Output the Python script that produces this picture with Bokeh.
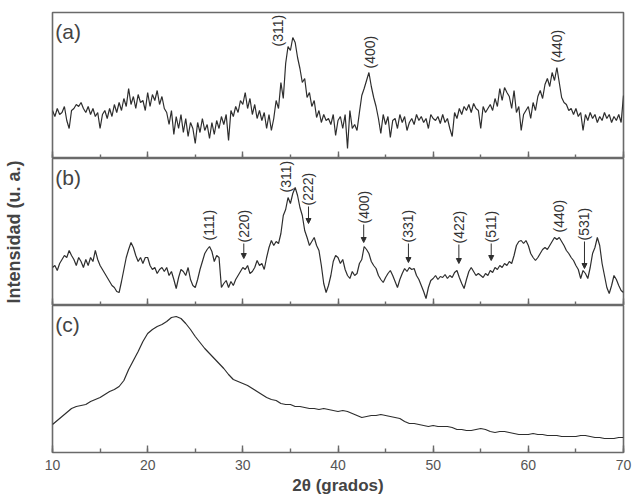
import numpy as np
from bokeh.plotting import figure
from bokeh.layouts import column
from bokeh.models import (Label, Arrow, NormalHead, SingleIntervalTicker, FixedTicker,
                          Range1d, ColumnDataSource)
from bokeh.core.properties import value
from bokeh.embed import file_html
from bokeh.resources import INLINE

# ---------------- data ----------------
# 2theta grid for panels (a) and (b): 10..70 step 0.25 ; panel (c): step 0.5
theta_ab = np.arange(0, 241) * 0.25 + 10
theta_c = np.arange(0, 121) * 0.5 + 10

int_a = [
    48, 42, 50, 44,   # 10
    46, 52, 38, 30,   # 11
    48, 50, 54, 52,   # 12
    56, 50, 46, 52,   # 13
    44, 50, 42, 46,   # 14
    30, 44, 48, 40,   # 15
    50, 42, 54, 46,   # 16
    56, 48, 60, 52,   # 17
    70, 54, 62, 50,   # 18
    64, 56, 58, 48,   # 19
    66, 52, 64, 58,   # 20
    68, 54, 62, 50,   # 21
    46, 34, 48, 24,   # 22
    42, 30, 44, 26,   # 23
    40, 22, 36, 30,   # 24
    15, 36, 26, 40,   # 25
    28, 34, 20, 36,   # 26
    24, 38, 30, 42,   # 27
    34, 44, 18, 48,   # 28
    42, 52, 46, 58,   # 29
    54, 66, 50, 60,   # 30
    44, 54, 40, 48,   # 31
    38, 46, 30, 44,   # 32
    28, 40, 58, 50,   # 33
    76, 60, 95, 112,  # 34
    108, 121, 116, 101,  # 35
    90, 76, 80, 61,   # 36
    66, 52, 58, 41,   # 37
    48, 36, 44, 38,   # 38
    40, 34, 44, 23,   # 39
    38, 42, 30, 44,   # 40
    10, 48, 30, 34,   # 41
    28, 46, 63, 70,   # 42
    78, 86, 72, 61,   # 43
    52, 40, 25, 44,   # 44
    34, 42, 21, 38,   # 45
    40, 30, 44, 36,   # 46
    42, 28, 36, 40,   # 47
    34, 44, 38, 42,   # 48
    36, 40, 30, 44,   # 49
    40, 38, 42, 35,   # 50
    44, 36, 40, 30,   # 51
    22, 46, 40, 50,   # 52
    44, 52, 48, 54,   # 53
    46, 55, 50, 48,   # 54
    30, 52, 46, 50,   # 55
    54, 48, 60, 52,   # 56
    70, 58, 71, 66,   # 57
    62, 50, 68, 46,   # 58
    52, 28, 44, 48,   # 59
    52, 40, 56, 48,   # 60
    62, 68, 60, 74,   # 61
    80, 72, 86, 78,   # 62
    91, 76, 61, 56,   # 63
    54, 48, 50, 44,   # 64
    50, 42, 46, 28,   # 65
    44, 38, 46, 40,   # 66
    44, 36, 42, 38,   # 67
    46, 40, 44, 36,   # 68
    42, 38, 44, 36,   # 69
    63,               # 70
]

int_b = [
    38, 40, 35, 42,   # 10
    46, 50, 48, 55,   # 11
    50, 46, 40, 48,   # 12
    44, 38, 46, 40,   # 13
    48, 44, 55, 46,   # 14
    40, 36, 32, 28,   # 15
    24, 20, 18, 14,   # 16
    13, 24, 36, 48,   # 17
    56, 63, 58, 50,   # 18
    44, 48, 42, 48,   # 19
    48, 40, 36, 38,   # 20
    32, 36, 38, 34,   # 21
    38, 30, 34, 26,   # 22
    17, 28, 36, 34,   # 23
    30, 38, 26, 20,   # 24
    18, 26, 36, 44,   # 25
    52, 56, 59, 54,   # 26
    44, 50, 48, 18,   # 27
    22, 25, 18, 24,   # 28
    20, 26, 30, 34,   # 29
    38, 36, 40, 32,   # 30
    34, 38, 45, 40,   # 31
    42, 36, 48, 58,   # 32
    65, 60, 64, 62,   # 33
    72, 90, 96, 108,  # 34
    102, 112, 118, 110,  # 35
    98, 90, 75, 68,   # 36
    60, 64, 68, 60,   # 37
    55, 40, 22, 13,   # 38
    20, 30, 44, 50,   # 39
    48, 42, 46, 36,   # 40
    30, 27, 34, 30,   # 41
    32, 42, 46, 59,   # 42
    56, 52, 44, 40,   # 43
    37, 30, 26, 23,   # 44
    28, 32, 35, 30,   # 45
    24, 18, 26, 32,   # 46
    37, 34, 38, 36,   # 47
    37, 30, 26, 20,   # 48
    14, 7, 18, 25,    # 49
    27, 30, 26, 29,   # 50
    28, 31, 27, 30,   # 51
    28, 33, 35, 28,   # 52
    22, 17, 26, 34,   # 53
    38, 34, 30, 32,   # 54
    30, 28, 32, 30,   # 55
    35, 33, 38, 36,   # 56
    40, 38, 42, 40,   # 57
    44, 42, 50, 60,   # 58
    64, 65, 62, 65,   # 59
    60, 52, 48, 45,   # 60
    48, 52, 56, 58,   # 61
    56, 60, 64, 68,   # 62
    66, 68, 64, 60,   # 63
    55, 52, 48, 45,   # 64
    40, 36, 27, 35,   # 65
    32, 27, 38, 52,   # 66
    58, 68, 60, 42,   # 67
    30, 18, 12, 20,   # 68
    30, 26, 20, 15,   # 69
    13,               # 70
]

int_c = [
    28, 32, 36, 40, 44, 46, 47, 48, 51, 53,        # 10-14.5
    55, 58, 61, 63, 66, 72, 83, 92, 101, 111,      # 15-19.5
    119, 123, 126, 128, 131, 135, 136, 134, 129, 123,  # 20-24.5
    116, 110, 104, 99, 94, 89, 84, 78, 73, 71,     # 25-29.5
    69, 67, 64, 61, 58, 55, 53, 52, 49, 48,        # 30-34.5
    48, 46, 46, 45, 44, 44, 43, 44, 43, 42,        # 35-39.5
    41, 42, 41, 39, 37, 35, 36, 37, 37, 38,        # 40-44.5
    37, 36, 35, 34, 31, 29, 29, 28, 27, 26,        # 45-49.5
    27, 26, 26, 26, 25, 23, 23, 22, 22, 23,        # 50-54.5
    24, 23, 21, 20, 21, 21, 20, 19, 18, 18,        # 55-59.5
    18, 19, 18, 18, 17, 17, 17, 16, 16, 16,        # 60-64.5
    16, 17, 17, 16, 15, 15, 14, 14, 14, 15,        # 65-69.5
    15,                                            # 70
]

# peak labels
a_hkl = ["(311)", "(400)", "(440)"]
a_pos = [33.7, 43.4, 63.0]
a_lab_y = [112, 90, 96]

b_hkl = ["(111)", "(220)", "(311)", "(222)", "(400)", "(331)", "(422)", "(511)", "(440)", "(531)"]
b_pos = [26.4, 30.1, 34.5, 36.9, 42.7, 47.4, 52.7, 56.1, 63.2, 65.9]
b_lab_y = [65, 63, 113, 100, 82, 63, 62, 63, 73, 65]
b_arrow_tip = [None, 47, None, 82, 63, 43, 42, 45, None, 37]

x_ticks_interval = 10

# ---------------- styling ----------------
FONT = "Liberation Sans"
AX = "#6a6a6a"
LINE = "#2e2e2e"
TXT = "#333333"

x_range = Range1d(10, 70)


def make_panel(ymax, top, frame_h, letter):
    p = figure(frame_width=571, frame_height=frame_h, x_range=x_range,
               y_range=Range1d(0, ymax), output_backend="svg", toolbar_location=None,
               min_border_left=52, min_border_right=12, min_border_top=top,
               min_border_bottom=0)
    p.grid.visible = False
    p.outline_line_color = AX
    p.outline_line_width = 1.6
    p.background_fill_color = "white"
    p.border_fill_color = "white"
    xa = p.xaxis[0]
    xa.ticker = SingleIntervalTicker(interval=x_ticks_interval, num_minor_ticks=2)
    xa.major_tick_in = 7
    xa.major_tick_out = 0
    xa.minor_tick_in = 4
    xa.minor_tick_out = 0
    xa.major_tick_line_color = AX
    xa.minor_tick_line_color = AX
    xa.major_tick_line_width = 1.4
    xa.minor_tick_line_width = 1.4
    xa.axis_line_color = None
    p.yaxis.visible = False
    p.add_layout(Label(x=10.3, y=ymax - 7, text=letter, text_baseline="top",
                       text_font=FONT, text_font_size="21px", text_color="#444444"))
    return p


def hide_x_labels(p):
    xa = p.xaxis[0]
    xa.major_label_text_color = None
    xa.major_label_text_font_size = "1px"
    xa.major_label_standoff = 0


def add_labels(p, xs, ys, texts):
    src = ColumnDataSource(dict(x=xs, y=ys, t=texts))
    p.text(x="x", y="y", text="t", source=src, angle=np.pi / 2,
           text_font=value(FONT), text_font_size="14px", text_color=TXT,
           text_align="left", text_baseline="middle")


# panel (a)
pa = make_panel(146, 12, 146, "(a)")
hide_x_labels(pa)
pa.line(theta_ab, int_a, line_color=LINE, line_width=1.2)
add_labels(pa, a_pos, a_lab_y, a_hkl)

# panel (b)
pb = make_panel(147, 0, 147, "(b)")
hide_x_labels(pb)
pb.line(theta_ab, int_b, line_color=LINE, line_width=1.2)
add_labels(pb, b_pos, b_lab_y, b_hkl)
ax0, ay0, ax1, ay1 = [], [], [], []
for xp, yl, tip in zip(b_pos, b_lab_y, b_arrow_tip):
    if tip is not None:
        ax0.append(xp); ay0.append(yl - 1); ax1.append(xp); ay1.append(tip)
pb.add_layout(Arrow(end=NormalHead(size=5, fill_color=LINE, line_color=LINE),
                    source=ColumnDataSource(dict(x0=ax0, y0=ay0, x1=ax1, y1=ay1)),
                    x_start="x0", y_start="y0", x_end="x1", y_end="y1",
                    line_color=LINE, line_width=1))
# shared y-axis title placed on the middle panel
pb.yaxis.visible = True
ya = pb.yaxis[0]
ya.ticker = FixedTicker(ticks=[])
ya.axis_label = "Intensidad (u. a.)"
ya.axis_label_text_font = FONT
ya.axis_label_text_font_style = "bold"
ya.axis_label_text_font_size = "18px"
ya.axis_label_text_color = "#444444"
ya.axis_label_standoff = 29
ya.major_label_text_color = None
ya.major_label_text_font_size = "1px"
ya.major_label_standoff = 0
ya.major_tick_in = 0
ya.major_tick_out = 0
ya.minor_tick_in = 0
ya.minor_tick_out = 0
ya.axis_line_color = None

# panel (c)
pc = make_panel(147, 0, 147, "(c)")
pc.line(theta_c, int_c, line_color=LINE, line_width=1.2)
xc = pc.xaxis[0]
xc.major_label_text_font = FONT
xc.major_label_text_font_size = "14px"
xc.major_label_text_color = "#555555"
xc.major_label_standoff = 7
xc.axis_label = "2θ (grados)"
xc.axis_label_text_font = FONT
xc.axis_label_text_font_style = "bold"
xc.axis_label_text_font_size = "17px"
xc.axis_label_text_color = "#444444"
xc.axis_label_standoff = 3

layout = column(pa, pb, pc, spacing=0)
open("out.html", "w").write(file_html(layout, INLINE))
